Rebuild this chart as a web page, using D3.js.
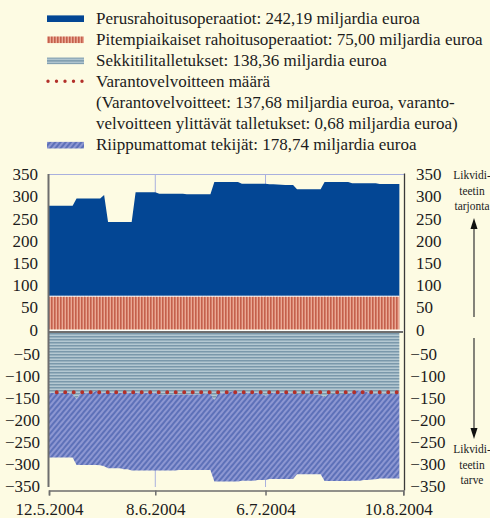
<!DOCTYPE html>
<html>
<head>
<meta charset="utf-8">
<script src="https://cdn.jsdelivr.net/npm/d3@7"></script>
<style>
  body { margin: 0; background: #fdfbe3; }
</style>
</head>
<body>
<script>
// daily data, 12.5.2004 - 9.8.2004 (billions of euros)
var firstDay = '12.5.2004', lastDay = '9.8.2004';
var axisStart = '12.5.2004', axisEnd = '10.8.2004';
var xTickLabels = ['12.5.2004', '8.6.2004', '6.7.2004', '10.8.2004'];
var periodBreaks = ['8.6.2004', '6.7.2004'];
var upperTicks = [350, 300, 250, 200, 150, 100, 50, 0];
var lowerTicks = [-50, -100, -150, -200, -250, -300, -350];

var ltro = 75;
var reserveReq = 137.68;

var mro = [
  203.5, 203.5, 203.5, 203.5, 203.5, 203.5, 203.5,
  220, 220, 220, 220, 220, 220, 220,
  227.5,
  167, 167, 167, 167, 167, 167, 167,
  234, 234, 234, 234, 234, 234,
  230.5, 230.5, 230.5, 230.5, 230.5, 230.5, 230.5,
  229.5, 229.5, 229.5, 229.5, 229.5, 229.5, 229.5,
  257, 257, 257, 257, 257, 257, 257,
  253, 253, 253, 253, 253, 253, 253,
  252, 252, 251.5, 251, 250.5, 250, 250,
  240.5, 240.5, 240.5, 240.5, 240.5, 240.5, 240.5,
  257, 257, 257, 257, 257, 257, 257,
  254, 254, 254, 254, 254, 254, 254,
  252.5, 252.5, 252.5, 252.5, 252.5, 252.5
];

var currentAccounts = [
  139.5, 139.5, 139.5, 139.5, 139.5, 139.5, 142,
  153, 140, 139.5, 139.5, 139.5, 134, 138,
  139.5, 139.5, 139.5, 139.5, 139.5, 139.5, 139.5,
  139.5, 139.5, 139.5, 139.5, 139.5, 139.5, 139.5,
  142.5, 142.5, 142.5, 142.5, 142.5, 142.5, 142.5,
  142.5, 142.5, 142.5, 142.5, 141, 141, 141,
  156, 140, 140, 140, 137, 134, 138,
  139.5, 139.5, 139.5, 139.5, 139.5, 139.5, 146,
  139.5, 139.5, 139.5, 139.5, 139.5, 139.5, 140.5,
  141.5, 141.5, 141.5, 141.5, 141.5, 143, 144,
  149, 141.5, 141.5, 141.5, 141.5, 141.5, 141.5,
  138, 133.5, 133.5, 133.5, 138, 141, 141,
  141, 141, 141, 141, 141, 141
];

var autonomous = [
  146, 146, 146, 146, 146, 146, 143.5,
  149.5, 162.5, 163, 163, 163, 168.5, 165,
  165.5, 170.5, 170.5, 170.5, 170.5, 172.5, 172.5,
  175.5, 175.5, 175.5, 175.5, 175.5, 175.5, 175.5,
  172.5, 172.5, 172.5, 172.5, 172.5, 171, 171,
  171, 171, 171, 171, 172.5, 172.5, 172.5,
  184, 200, 200, 200, 203, 206, 202,
  198.5, 198.5, 198.5, 198.5, 197, 197, 190.5,
  194.5, 194.5, 194.5, 194.5, 194.5, 194.5, 193.5,
  182, 182, 182, 182, 182, 180.5, 179.5,
  189.5, 197, 197, 197, 197, 197, 197,
  200, 204.5, 204.5, 203, 198.5, 194.5, 193.5,
  192, 192, 192, 192, 192, 192
];

var legendLabels = [
  'Perusrahoitusoperaatiot: 242,19 miljardia euroa',
  'Pitempiaikaiset rahoitusoperaatiot: 75,00 miljardia euroa',
  'Sekkitilitalletukset: 138,36 miljardia euroa',
  'Varantovelvoitteen määrä',
  '(Varantovelvoitteet: 137,68 miljardia euroa, varanto-',
  'velvoitteen ylittävät talletukset: 0,68 miljardia euroa)',
  'Riippumattomat tekijät: 178,74 miljardia euroa'
];
var legendSwatches = ['mro', 'ltro', 'ca', 'dots', null, null, 'af'];
var supplyLabels = ['Likvidi-', 'teetin', 'tarjonta'];
var demandLabels = ['Likvidi-', 'teetin', 'tarve'];

var colors = {
  bg: '#fdfbe3', mro: '#034694', dots: '#b3302a',
  frame: '#6e6e6e', period: '#a9b0de', text: '#1c1c1c'
};
var serif = 'Liberation Serif, Times New Roman, Times, DejaVu Serif, serif';

var width = 490, height = 518;
var svg = d3.select('body').append('svg')
  .attr('width', width)
  .attr('height', height)
  .attr('font-family', serif);

// patterns for the hatched fills
var defs = svg.append('defs');
var red = defs.append('pattern').attr('id', 'ltroFill')
  .attr('patternUnits', 'userSpaceOnUse').attr('width', 3).attr('height', 10);
red.append('rect').attr('width', 3).attr('height', 10).attr('fill', '#eaa995');
red.append('rect').attr('width', 1.6).attr('height', 10).attr('fill', '#c4604c');

var ca = defs.append('pattern').attr('id', 'caFill')
  .attr('patternUnits', 'userSpaceOnUse').attr('width', 10).attr('height', 3);
ca.append('rect').attr('width', 10).attr('height', 3).attr('fill', '#b4c8d2');
ca.append('rect').attr('width', 10).attr('height', 1.5).attr('fill', '#7a98ab');

var af = defs.append('pattern').attr('id', 'afFill')
  .attr('patternUnits', 'userSpaceOnUse').attr('width', 4).attr('height', 4)
  .attr('patternTransform', 'rotate(40)');
af.append('rect').attr('width', 4).attr('height', 4).attr('fill', '#8d97d2');
af.append('line').attr('x1', 1).attr('x2', 1).attr('y1', 0).attr('y2', 4)
  .attr('stroke', '#24429a').attr('stroke-width', 0.9);

var fills = { mro: colors.mro, ltro: 'url(#ltroFill)', ca: 'url(#caFill)', af: 'url(#afFill)' };

var parseDate = d3.timeParse('%d.%m.%Y');
var dates = d3.timeDay.range(parseDate(firstDay), d3.timeDay.offset(parseDate(lastDay), 1));

var x = d3.scaleTime()
  .domain([parseDate(axisStart), parseDate(axisEnd)])
  .range([49, 403.3]);
var yTop = d3.scaleLinear().domain([0, 350]).range([329.5, 174]);
var yBot = d3.scaleLinear().domain([0, -350]).range([331.5, 486]);

// maintenance period lines (behind the areas)
svg.selectAll('.period')
  .data(periodBreaks)
  .enter().append('line')
  .attr('x1', function(d) { return x(parseDate(d)); })
  .attr('x2', function(d) { return x(parseDate(d)); })
  .attr('y1', 174).attr('y2', 487)
  .attr('stroke', colors.period).attr('stroke-width', 1);

// upper panel: liquidity supply
var upperRows = dates.map(function(d, i) { return { date: d, ltro: ltro, mro: mro[i] }; });
var upperSeries = d3.stack().keys(['ltro', 'mro'])(upperRows);

var areaTop = d3.area()
  .x(function(d) { return x(d.data.date); })
  .y0(function(d) { return yTop(d[0]); })
  .y1(function(d) { return yTop(d[1]); });

svg.selectAll('.upper')
  .data(upperSeries.slice().reverse())
  .enter().append('path')
  .attr('d', areaTop)
  .attr('fill', function(d) { return fills[d.key]; });

svg.append('path')
  .datum(upperSeries[0])
  .attr('d', d3.line().x(function(d) { return x(d.data.date); }).y(function(d) { return yTop(d[1]); }))
  .attr('fill', 'none').attr('stroke', '#fff').attr('stroke-width', 1);

// lower panel: liquidity demand
var lowerRows = dates.map(function(d, i) {
  return { date: d, ca: -currentAccounts[i], af: -autonomous[i] };
});
var lowerSeries = d3.stack().keys(['ca', 'af']).offset(d3.stackOffsetDiverging)(lowerRows);

var areaBot = d3.area()
  .x(function(d) { return x(d.data.date); })
  .y0(function(d) { return yBot(d[0]); })
  .y1(function(d) { return yBot(d[1]); });

svg.selectAll('.lower')
  .data(lowerSeries)
  .enter().append('path')
  .attr('d', areaBot)
  .attr('fill', function(d) { return fills[d.key]; });

svg.append('path')
  .datum(lowerSeries[0])
  .attr('d', d3.line().x(function(d) { return x(d.data.date); }).y(function(d) { return yBot(d[1]); }))
  .attr('fill', 'none').attr('stroke', '#fff').attr('stroke-width', 1.2);

// reserve requirement, dotted
svg.append('line')
  .attr('x1', x(dates[0])).attr('x2', x(dates[dates.length - 1]))
  .attr('y1', yBot(-reserveReq)).attr('y2', yBot(-reserveReq))
  .attr('stroke', colors.dots).attr('stroke-width', 4)
  .attr('stroke-linecap', 'round')
  .attr('stroke-dasharray', '0 8.5')
  .attr('stroke-dashoffset', 0.8);

// frame
svg.append('line').attr('x1', 49).attr('x2', 404).attr('y1', 174.5).attr('y2', 174.5)
  .attr('stroke', colors.period).attr('stroke-width', 1);
svg.append('line').attr('x1', 48).attr('x2', 404).attr('y1', 330.4).attr('y2', 330.4)
  .attr('stroke', '#ffffff').attr('stroke-width', 1);
svg.append('line').attr('x1', 48).attr('x2', 403).attr('y1', 332).attr('y2', 332)
  .attr('stroke', colors.frame).attr('stroke-width', 2);
svg.append('line').attr('x1', 48.5).attr('x2', 48.5).attr('y1', 174).attr('y2', 487)
  .attr('stroke', colors.frame).attr('stroke-width', 2);
svg.append('line').attr('x1', 404.5).attr('x2', 404.5).attr('y1', 173.5).attr('y2', 490.5)
  .attr('stroke', '#3a3a3a').attr('stroke-width', 1.3);

// y axes: labels only
function styleLabels(g) {
  g.select('.domain').remove();
  g.attr('font-family', serif).attr('font-size', 17);
  g.selectAll('text').attr('dy', '0.33em').attr('fill', colors.text);
}

svg.append('g').attr('transform', 'translate(38,0)')
  .call(d3.axisLeft(yTop).tickValues(upperTicks).tickSize(0).tickPadding(0))
  .call(styleLabels);
svg.append('g').attr('transform', 'translate(40,0)')
  .call(d3.axisLeft(yBot).tickValues(lowerTicks).tickSize(0).tickPadding(0))
  .call(styleLabels);
svg.append('g').attr('transform', 'translate(416,0)')
  .call(d3.axisRight(yTop).tickValues(upperTicks).tickSize(0).tickPadding(0))
  .call(styleLabels);
svg.append('g').attr('transform', 'translate(410.3,0)')
  .call(d3.axisRight(yBot).tickValues(lowerTicks).tickSize(0).tickPadding(0))
  .call(styleLabels);

// bottom date axis
var bottomAxis = svg.append('g').attr('transform', 'translate(0,490.5)')
  .call(d3.axisBottom(x)
    .tickValues(xTickLabels.map(parseDate))
    .tickFormat(function(d, i) { return xTickLabels[i]; })
    .tickSize(5).tickPadding(7.5));
bottomAxis.attr('font-family', serif).attr('font-size', 17);
bottomAxis.selectAll('.domain, .tick line').attr('stroke', colors.frame).attr('stroke-width', 1.5);
bottomAxis.selectAll('text')
  .attr('fill', colors.text)
  .attr('dx', function(d, i) { return i === xTickLabels.length - 1 ? -5 : 0; });

// supply / demand arrows on the right
function arrowLabel(lines, baseline) {
  svg.selectAll(null)
    .data(lines)
    .enter().append('text')
    .attr('transform', function(d, i) { return 'translate(472,' + (baseline + i * 15.5) + ') scale(0.88,1)'; })
    .attr('text-anchor', 'middle')
    .attr('font-size', 13)
    .attr('fill', colors.text)
    .text(function(d) { return d; });
}
arrowLabel(supplyLabels, 179);
arrowLabel(demandLabels, 453);

svg.append('line').attr('x1', 474).attr('x2', 474).attr('y1', 317).attr('y2', 227)
  .attr('stroke', '#333').attr('stroke-width', 1.2);
svg.append('path').attr('d', 'M474,218L477.5,229L470.5,229Z').attr('fill', '#111');
svg.append('line').attr('x1', 474).attr('x2', 474).attr('y1', 338).attr('y2', 430)
  .attr('stroke', '#333').attr('stroke-width', 1.2);
svg.append('path').attr('d', 'M474,439L477.5,428L470.5,428Z').attr('fill', '#111');

// legend
var legend = svg.append('g');
var rows = legend.selectAll('g')
  .data(legendLabels)
  .enter().append('g')
  .attr('transform', function(d, i) { return 'translate(0,' + (24 + i * 21.08) + ')'; });

rows.append('text')
  .attr('x', 96)
  .attr('font-size', 17)
  .attr('fill', colors.text)
  .text(function(d) { return d; });

rows.each(function(d, i) {
  var key = legendSwatches[i];
  var row = d3.select(this);
  if (!key) return;
  if (key === 'dots') {
    row.append('line')
      .attr('x1', 48).attr('x2', 84).attr('y1', -6).attr('y2', -6)
      .attr('stroke', colors.dots).attr('stroke-width', 3.4)
      .attr('stroke-linecap', 'round').attr('stroke-dasharray', '0 8.5');
  } else {
    row.append('rect')
      .attr('x', 47).attr('y', -8.6)
      .attr('width', 37).attr('height', 6.6)
      .attr('fill', fills[key]);
  }
});
</script>
</body>
</html>
